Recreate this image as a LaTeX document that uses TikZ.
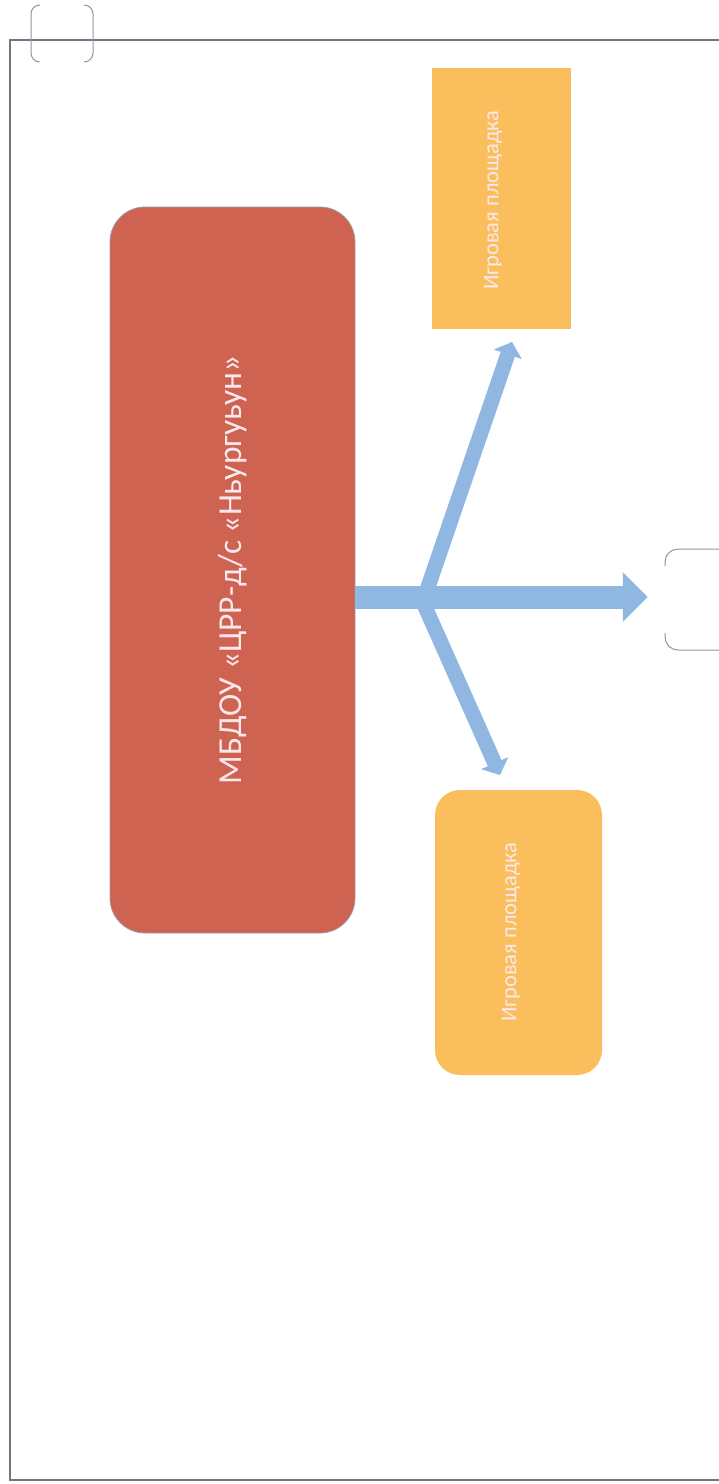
\documentclass[tikz,border=0pt]{standalone}
\usepackage{fontspec}
\setmainfont{Carlito}
\usetikzlibrary{arrows.meta}
\definecolor{redfill}{RGB}{207,99,81}
\definecolor{orangefill}{RGB}{250,190,92}
\definecolor{bluearrow}{RGB}{143,183,226}
\definecolor{framecol}{RGB}{118,114,128}
\definecolor{brackcol}{RGB}{150,146,160}
\definecolor{lighttext}{RGB}{250,232,236}
\tikzset{
  redbox/.style={draw=framecol!70, line width=0.8pt, fill=redfill, rounded corners=35pt, inner sep=0pt},
  orangebox/.style={fill=orangefill, inner sep=0pt},
  boxlabel/.style={rotate=90, text=lighttext, inner sep=0pt},
  bigarrow/.style={draw=bluearrow, line width=23pt, -{Triangle[width=48pt,length=25pt]}},
  smallarrow/.style={draw=bluearrow, line width=15pt, -{Triangle[width=29pt,length=13pt]}},
  brack/.style={draw=brackcol, line width=1pt},
}
\begin{document}
\begin{tikzpicture}[x=1pt,y=-1pt]
\useasboundingbox (0,0) rectangle (719,1484);
\fill[white] (0,0) rectangle (719,1484);
% frame
\draw[framecol, line width=1.5pt] (725,40) -- (10,40) -- (10,1480) -- (725,1480);
% top-left bracket
\draw[brack] (40,5) arc[start angle=-90, end angle=-180, radius=9] -- (31,53) arc[start angle=180, end angle=90, radius=9];
\draw[brack] (84,5) arc[start angle=-90, end angle=0, radius=9] -- (93,53) arc[start angle=0, end angle=90, radius=9];
% right partial bracket shape
\node[inner sep=0pt, minimum width=60pt, minimum height=101pt] (rb) at (695,599.5) {};
\draw[brack] (725,549) -- (678,549) arc[start angle=-90, end angle=-180, radius=13] -- (665,566);
\draw[brack] (665,633) -- (665,637) arc[start angle=180, end angle=90, radius=13] -- (725,650);
% main box
\node[redbox, minimum width=245pt, minimum height=726pt,
  label={[boxlabel, font=\fontsize{33.5}{33.5}\selectfont]center:МБДОУ «ЦРР-д/с «Ньургуьун»}] (main) at (232.5,570) {};
% orange boxes
\node[orangebox, minimum width=139pt, minimum height=261pt] (top) at (501.5,198.5) {};
\node[boxlabel, font=\fontsize{22.5}{22.5}\selectfont] (toplbl) at (493,200) {Игровая площадка};
\node[orangebox, rounded corners=25pt, minimum width=167pt, minimum height=285pt] (bot) at (518.5,932.5) {};
\node[boxlabel, font=\fontsize{22.5}{22.5}\selectfont] (botlbl) at (511,932) {Игровая площадка};
% arrows
\coordinate (ju) at (427,590);
\coordinate (tu) at (512,342);
\coordinate (jd) at (422,600);
\coordinate (td) at (500,775);
\coordinate (hs) at ([yshift=2.5pt]main.east |- rb.west);
\coordinate (he) at ([yshift=2.5pt]rb.west);
\draw[smallarrow] (ju) -- (tu);
\draw[smallarrow] (jd) -- (td);
\draw[bigarrow, shorten >=17pt] (hs) -- (he);
\end{tikzpicture}
\end{document}
